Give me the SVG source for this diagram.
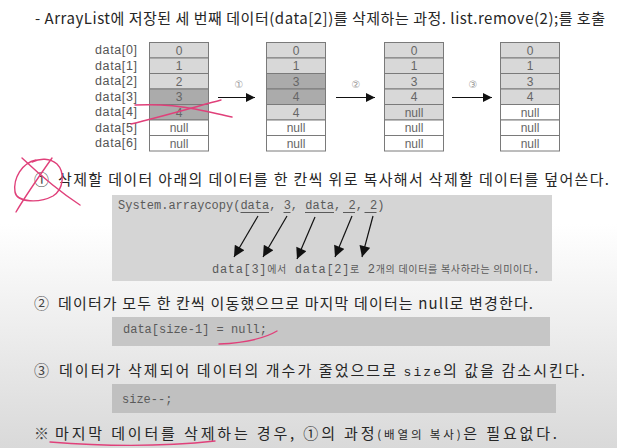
<svg xmlns="http://www.w3.org/2000/svg" width="617" height="448" viewBox="0 0 617 448">
<defs>
<linearGradient id="bg" x1="0" y1="0" x2="0" y2="448" gradientUnits="userSpaceOnUse">
<stop offset="0" stop-color="#ffffff"/>
<stop offset="0.5" stop-color="#ffffff"/>
<stop offset="1" stop-color="#d9d9d9"/>
</linearGradient>
<marker id="ah" viewBox="0 0 10 10" refX="10" refY="5" markerWidth="9" markerHeight="9" markerUnits="userSpaceOnUse" orient="auto">
<path d="M0,0 L10,5 L0,10 z" fill="#111"/>
</marker>
<marker id="ah2" viewBox="0 0 10 10" refX="10" refY="5" markerWidth="12" markerHeight="11" markerUnits="userSpaceOnUse" orient="auto">
<path d="M0,0 L10,5 L0,10 z" fill="#111"/>
</marker>
</defs>
<style>
.main{font-family:"Noto Sans CJK KR","Noto Sans",sans-serif;font-size:15px;fill:#262626}
.circ{font-family:"Noto Sans CJK KR","DejaVu Sans",sans-serif;font-size:15px;fill:#444}
.lbl{font-family:"Liberation Sans","Noto Sans CJK KR",sans-serif;font-size:12.5px;fill:#555;text-anchor:end}
.cv{font-family:"Liberation Sans",sans-serif;font-size:12px;fill:#666;text-anchor:middle}
.snum{font-family:"DejaVu Sans","Noto Sans CJK KR",sans-serif;font-size:10px;fill:#999;text-anchor:middle}
.mono{font-family:"Liberation Mono","Noto Sans CJK KR",monospace;font-size:12px;fill:#5a5a5a}
.kr{font-family:"Noto Sans CJK KR",sans-serif;font-size:10px}
.L{fill:#d8d8d8;stroke:#7a7a7a;stroke-width:1}
.D{fill:#ababab;stroke:#7a7a7a;stroke-width:1}
.W{fill:#ffffff;stroke:#7a7a7a;stroke-width:1}
.conn{stroke:#111;stroke-width:1.2;fill:none}
.uline{stroke:#5a5a5a;stroke-width:1}
.pink{stroke:#e0407a;stroke-width:1.4;fill:none;stroke-linecap:round}
.box{stroke:none}
</style>
<rect x="0" y="0" width="617" height="448" fill="url(#bg)"/>

<g id="title">
<text class="main" x="35" y="24" font-size="14" textLength="570">- ArrayList에 저장된 세 번째 데이터(data[2])를 삭제하는 과정. list.remove(2);를 호출</text>
</g>

<g id="labels">
<text class="lbl" x="137" y="54" textLength="42">data[0]</text>
<text class="lbl" x="137" y="69.5" textLength="42">data[1]</text>
<text class="lbl" x="137" y="85" textLength="42">data[2]</text>
<text class="lbl" x="137" y="100.5" textLength="42">data[3]</text>
<text class="lbl" x="137" y="116" textLength="42">data[4]</text>
<text class="lbl" x="137" y="131.5" textLength="42">data[5]</text>
<text class="lbl" x="137" y="147" textLength="42">data[6]</text>
</g>

<g id="array1">
<rect class="L" x="149.5" y="42.5" width="59" height="15.5"/>
<rect class="L" x="149.5" y="58" width="59" height="15.5"/>
<rect class="L" x="149.5" y="73.5" width="59" height="15.5"/>
<rect class="D" x="149.5" y="89" width="59" height="15.5"/>
<rect class="D" x="149.5" y="104.5" width="59" height="15.5"/>
<rect class="W" x="149.5" y="120" width="59" height="15.5"/>
<rect class="W" x="149.5" y="135.5" width="59" height="15.5"/>
<text class="cv" x="179" y="54.5">0</text>
<text class="cv" x="179" y="70">1</text>
<text class="cv" x="179" y="85.5">2</text>
<text class="cv" x="179" y="101">3</text>
<text class="cv" x="179" y="116.5">4</text>
<text class="cv" x="179" y="132">null</text>
<text class="cv" x="179" y="147.5">null</text>
</g>

<g id="array2">
<rect class="L" x="266.5" y="42.5" width="59" height="15.5"/>
<rect class="L" x="266.5" y="58" width="59" height="15.5"/>
<rect class="D" x="266.5" y="73.5" width="59" height="15.5"/>
<rect class="D" x="266.5" y="89" width="59" height="15.5"/>
<rect class="L" x="266.5" y="104.5" width="59" height="15.5"/>
<rect class="W" x="266.5" y="120" width="59" height="15.5"/>
<rect class="W" x="266.5" y="135.5" width="59" height="15.5"/>
<text class="cv" x="296" y="54.5">0</text>
<text class="cv" x="296" y="70">1</text>
<text class="cv" x="296" y="85.5">3</text>
<text class="cv" x="296" y="101">4</text>
<text class="cv" x="296" y="116.5">4</text>
<text class="cv" x="296" y="132">null</text>
<text class="cv" x="296" y="147.5">null</text>
</g>

<g id="array3">
<rect class="L" x="384.5" y="42.5" width="59" height="15.5"/>
<rect class="L" x="384.5" y="58" width="59" height="15.5"/>
<rect class="L" x="384.5" y="73.5" width="59" height="15.5"/>
<rect class="L" x="384.5" y="89" width="59" height="15.5"/>
<rect class="L" x="384.5" y="104.5" width="59" height="15.5"/>
<rect class="W" x="384.5" y="120" width="59" height="15.5"/>
<rect class="W" x="384.5" y="135.5" width="59" height="15.5"/>
<text class="cv" x="414" y="54.5">0</text>
<text class="cv" x="414" y="70">1</text>
<text class="cv" x="414" y="85.5">3</text>
<text class="cv" x="414" y="101">4</text>
<text class="cv" x="414" y="116.5">null</text>
<text class="cv" x="414" y="132">null</text>
<text class="cv" x="414" y="147.5">null</text>
</g>

<g id="array4">
<rect class="L" x="500.5" y="42.5" width="59" height="15.5"/>
<rect class="L" x="500.5" y="58" width="59" height="15.5"/>
<rect class="L" x="500.5" y="73.5" width="59" height="15.5"/>
<rect class="L" x="500.5" y="89" width="59" height="15.5"/>
<rect class="W" x="500.5" y="104.5" width="59" height="15.5"/>
<rect class="W" x="500.5" y="120" width="59" height="15.5"/>
<rect class="W" x="500.5" y="135.5" width="59" height="15.5"/>
<text class="cv" x="530" y="54.5">0</text>
<text class="cv" x="530" y="70">1</text>
<text class="cv" x="530" y="85.5">3</text>
<text class="cv" x="530" y="101">4</text>
<text class="cv" x="530" y="116.5">null</text>
<text class="cv" x="530" y="132">null</text>
<text class="cv" x="530" y="147.5">null</text>
</g>

<g id="step-labels">
<text class="snum" x="239" y="88">①</text>
<text class="snum" x="356" y="88">②</text>
<text class="snum" x="473" y="88">③</text>
</g>

<g id="connectors">
<line class="conn" x1="218" y1="97.5" x2="255" y2="97.5" marker-end="url(#ah)"/>
<line class="conn" x1="336" y1="97.5" x2="375" y2="97.5" marker-end="url(#ah)"/>
<line class="conn" x1="452" y1="97.5" x2="492" y2="97.5" marker-end="url(#ah)"/>
</g>

<g id="step1">
<text class="circ" x="34" y="185">①</text>
<text class="main" x="58" y="185" textLength="551">삭제할 데이터 아래의 데이터를 한 칸씩 위로 복사해서 삭제할 데이터를 덮어쓴다.</text>
</g>

<g id="code1">
<rect class="box" x="112" y="195" width="440" height="86" fill="#d5d5d5"/>
<text class="mono" x="118" y="209">System.arraycopy(data, 3, data, 2, 2)</text>
<line class="uline" x1="240.5" y1="212.5" x2="269" y2="212.5"/>
<line class="uline" x1="283.5" y1="212.5" x2="290.5" y2="212.5"/>
<line class="uline" x1="305" y1="212.5" x2="334" y2="212.5"/>
<line class="uline" x1="343" y1="212.5" x2="355" y2="212.5"/>
<line class="uline" x1="364.5" y1="212.5" x2="376.5" y2="212.5"/>
<text class="mono" x="212" y="273" textLength="328">data[3]<tspan class="kr">에서</tspan> data[2]<tspan class="kr">로</tspan> 2<tspan class="kr">개의 데이터를 복사하라는 의미이다</tspan>.</text>
</g>

<g id="code1-arrows">
<line class="conn" x1="258" y1="216" x2="234" y2="257" stroke-width="1" marker-end="url(#ah2)"/>
<line class="conn" x1="287" y1="216" x2="263" y2="257" stroke-width="1" marker-end="url(#ah2)"/>
<line class="conn" x1="315" y1="217" x2="297" y2="259" stroke-width="1" marker-end="url(#ah2)"/>
<line class="conn" x1="352" y1="216" x2="335" y2="257" stroke-width="1" marker-end="url(#ah2)"/>
<line class="conn" x1="373" y1="216" x2="362" y2="257" stroke-width="1" marker-end="url(#ah2)"/>
</g>

<g id="step2">
<text class="circ" x="34" y="308.5">②</text>
<text class="main" x="58" y="308.5" textLength="475">데이터가 모두 한 칸씩 이동했으므로 마지막 데이터는 null로 변경한다.</text>
</g>

<g id="code2">
<rect class="box" x="112" y="317" width="438" height="29" fill="#c6c6c6"/>
<text class="mono" x="123" y="332.5" font-size="12.5">data[size-1] = null;</text>
</g>

<g id="step3">
<text class="circ" x="34" y="375.5">③</text>
<text class="main" x="59" y="375.5" textLength="526">데이터가 삭제되어 데이터의 개수가 줄었으므로 <tspan font-family="Liberation Mono, monospace" font-size="13">size</tspan>의 값을 감소시킨다.</text>
</g>

<g id="code3">
<rect class="box" x="112" y="384" width="444" height="29" fill="#c0c0c0"/>
<text class="mono" x="122" y="402.5" font-size="12.5">size--;</text>
</g>

<g id="note">
<text class="circ" x="34" y="438.5">※</text>
<text class="main" x="55" y="438.5" textLength="502">마지막 데이터를 삭제하는 경우, ①의 과정<tspan font-size="11.5">(배열의 복사)</tspan>은 필요없다.</text>
</g>

<g id="annotations">
<path class="pink" d="M135,105 C160,104 180,106 195,109 C210,112 222,115 232,117"/>
<path class="pink" d="M131,124 C160,117 195,107 221,100"/>
<path class="pink" d="M36,160 C22,163 13,178 15,192 C17,203 40,203 53,196 C64,189 65,172 57,164 C50,158 40,158 32,162"/>
<path class="pink" d="M22,158 C40,175 60,192 80,205"/>
<path class="pink" d="M52,158 C40,175 26,195 16,212"/>
<path class="pink" d="M219,344 C240,343 262,340 277,331"/>
<path class="pink" d="M50,442 C100,446 160,447 215,441"/>
</g>
</svg>
